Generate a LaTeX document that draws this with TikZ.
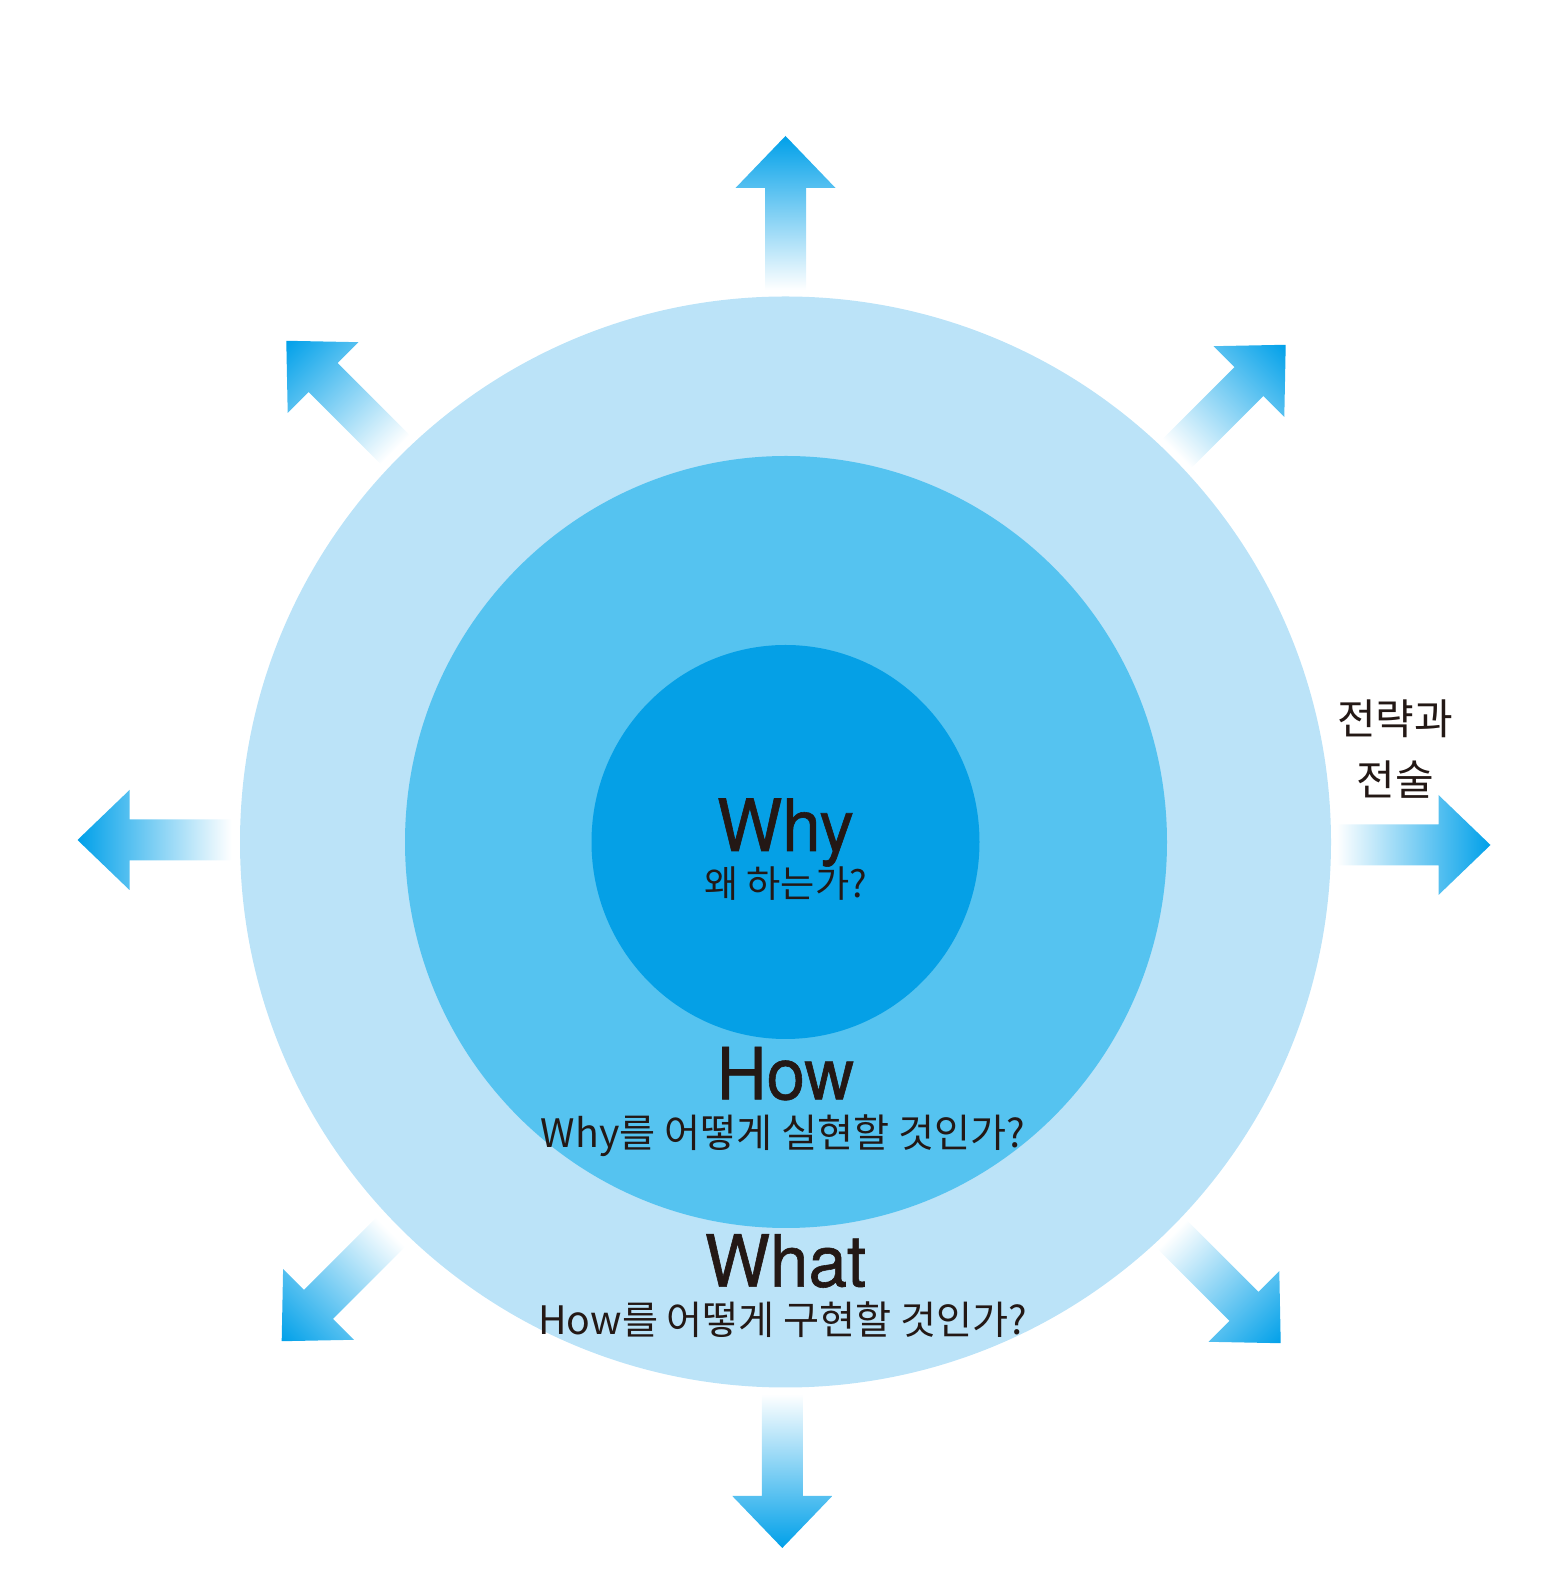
\documentclass[tikz,border=0pt]{standalone}
\usepackage{fontspec}
\newfontfamily\kr{Noto Sans CJK KR}
\newfontfamily\ttl[FakeStretch=0.96,FakeBold=0.8]{TeX Gyre Heros}
\definecolor{ringA}{HTML}{BBE3F8}
\definecolor{ringB}{HTML}{55C3F0}
\definecolor{ringC}{HTML}{05A0E6}
\definecolor{arrowblue}{HTML}{00A0E9}
\definecolor{ink}{HTML}{231815}
\newcommand\myarrowshape{%
  \shade[top color=arrowblue, bottom color=white]
    (-20.5,552) -- (-20.5,654) -- (-50,654) -- (0,706) -- (50,654) -- (20.5,654) -- (20.5,552) -- cycle;}
\tikzset{
  title/.style={font=\ttl\fontsize{36}{40}\selectfont, text=ink, anchor=base, inner sep=0},
  subtitle/.style={font=\kr\fontsize{19.6}{24}\selectfont, text=ink, anchor=base, inner sep=0},
}
\begin{document}
\begin{tikzpicture}[x=0.5pt,y=0.5pt]
\path[use as bounding box] (0,0) rectangle (1565,1581);
% arrows
\foreach \ang/\dx/\dy in {0/0/0, 45/0/2, 90/-2/2, 135/-4.6/0, 180/-3.2/0, 225/-4/-2, 270/-1/-3, 315/1/-2} {
  \begin{scope}[transform canvas={shift={(785.5+\dx,739+\dy)}, rotate=\ang}]
    \myarrowshape
  \end{scope}
}
% circles
\coordinate (c) at (785.5,739);
\fill[ringA] (c) circle[radius=545.5];
\fill[ringB] (786,739) ellipse[x radius=381, y radius=386];
\fill[ringC] (785.5,739) ellipse[x radius=194, y radius=197];
% texts
\node[title] (why) at (785.5,730) {Why};
\node[subtitle, font=\kr\fontsize{18.6}{22}\selectfont] (whysub) at (785.5,683) {왜 하는가?};
\node[title] (how) at (785.5,481.7) {How};
\node[subtitle] (howsub) at (783,433) {Why를 어떻게 실현할 것인가?};
\node[title] (what) at (785.5,294.3) {What};
\node[subtitle] (whatsub) at (783,246) {How를 어떻게 구현할 것인가?};
\node[subtitle, font=\kr\fontsize{21}{24}\selectfont] (tac1) at (1395,846) {전략과};
\node[subtitle, font=\kr\fontsize{21}{24}\selectfont] (tac2) at (1395,785.5) {전술};
\end{tikzpicture}
\end{document}
